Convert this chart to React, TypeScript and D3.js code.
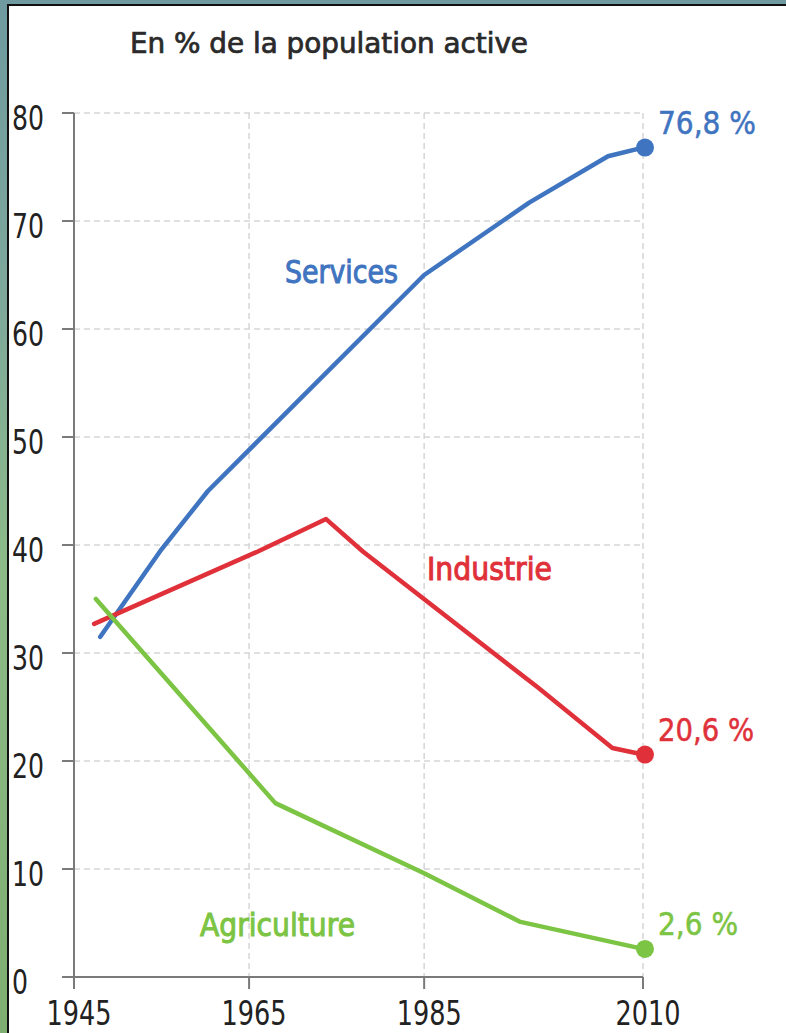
import { useEffect, useRef } from "react";
import * as d3 from "d3";

const X_TICKS = [1945, 1965, 1985, 2010];
const Y_TICKS = [0, 10, 20, 30, 40, 50, 60, 70, 80];

const SERVICES_YEARS = [1948, 1955, 1960.3, 1985, 1997, 2006, 2010];
const SERVICES_VALUES = [31.5, 39.6, 45, 65, 71.7, 76, 76.8];

const INDUSTRY_YEARS = [1947.3, 1966, 1973.8, 1978, 1998, 2006.5, 2010];
const INDUSTRY_VALUES = [32.7, 39.4, 42.4, 39.4, 26.8, 21.2, 20.6];

const AGRI_YEARS = [1947.5, 1968, 1985, 1996, 2010];
const AGRI_VALUES = [35, 16.1, 9.6, 5.1, 2.6];

const SERIES = [
  { name: "Services", years: SERVICES_YEARS, values: SERVICES_VALUES, end: "76,8 %", color: "#3f74c0", label: [285, 283], nameW: 113, endW: 98 },
  { name: "Industrie", years: INDUSTRY_YEARS, values: INDUSTRY_VALUES, end: "20,6 %", color: "#e0313b", label: [427, 580], nameW: 125, endW: 96 },
  { name: "Agriculture", years: AGRI_YEARS, values: AGRI_VALUES, end: "2,6 %", color: "#7cc443", label: [200, 936], nameW: 155, endW: 80 },
];

const FONT = "'DejaVu Sans Condensed', 'DejaVu Sans', sans-serif";

export default function App() {
  const ref = useRef<SVGSVGElement | null>(null);

  useEffect(() => {
    const svg = d3.select(ref.current);
    svg.selectAll("*").remove();

    const width = 786;
    const height = 1033;
    svg.attr("width", width).attr("height", height).attr("viewBox", `0 0 ${width} ${height}`);

    // frame: photo strip on the left / top, black border line
    const defs = svg.append("defs");
    const grad = defs.append("linearGradient").attr("id", "strip").attr("x1", 0).attr("y1", 0).attr("x2", 0).attr("y2", 1);
    grad.append("stop").attr("offset", "0%").attr("stop-color", "#6f9aa0");
    grad.append("stop").attr("offset", "30%").attr("stop-color", "#7fa99a");
    grad.append("stop").attr("offset", "55%").attr("stop-color", "#8cbb88");
    grad.append("stop").attr("offset", "100%").attr("stop-color", "#7fae72");
    svg.append("rect").attr("width", width).attr("height", height).attr("fill", "url(#strip)");
    svg.append("rect").attr("x", 7).attr("y", 4).attr("width", width - 7).attr("height", height - 4).attr("fill", "#111");
    svg.append("rect").attr("x", 9).attr("y", 6).attr("width", width - 9).attr("height", height - 6).attr("fill", "#fff");

    const x = d3.scaleLinear().domain([1945, 2010]).range([74, 643]);
    const y = d3.scaleLinear().domain([0, 80]).range([977, 113]);

    const g = svg.append("g");

    // grid
    g.selectAll("line.hgrid")
      .data(Y_TICKS.filter((t) => t > 0))
      .enter()
      .append("line")
      .attr("x1", x(1945))
      .attr("x2", x(2010))
      .attr("y1", (d: number) => y(d))
      .attr("y2", (d: number) => y(d))
      .attr("stroke", "#d6d6d6")
      .attr("stroke-width", 1.5)
      .attr("stroke-dasharray", "6,4");
    g.selectAll("line.vgrid")
      .data(X_TICKS.filter((t) => t > 1945))
      .enter()
      .append("line")
      .attr("x1", (d: number) => x(d))
      .attr("x2", (d: number) => x(d))
      .attr("y1", y(80))
      .attr("y2", y(0))
      .attr("stroke", "#d6d6d6")
      .attr("stroke-width", 1.5)
      .attr("stroke-dasharray", "6,4");

    // axes
    const axisColor = "#7a7a7a";
    g.append("line").attr("x1", x(1945)).attr("x2", x(1945)).attr("y1", y(80)).attr("y2", y(0) + 12).attr("stroke", axisColor).attr("stroke-width", 2);
    g.append("line").attr("x1", x(1945) - 12).attr("x2", x(2010)).attr("y1", y(0)).attr("y2", y(0)).attr("stroke", axisColor).attr("stroke-width", 2);
    g.selectAll("line.ytick")
      .data(Y_TICKS)
      .enter()
      .append("line")
      .attr("x1", x(1945) - 12)
      .attr("x2", x(1945))
      .attr("y1", (d: number) => y(d))
      .attr("y2", (d: number) => y(d))
      .attr("stroke", axisColor)
      .attr("stroke-width", 2);
    g.selectAll("line.xtick")
      .data(X_TICKS)
      .enter()
      .append("line")
      .attr("x1", (d: number) => x(d))
      .attr("x2", (d: number) => x(d))
      .attr("y1", y(0))
      .attr("y2", y(0) + 12)
      .attr("stroke", axisColor)
      .attr("stroke-width", 2);

    // tick labels (narrow, tall digits)
    g.selectAll("text.ylab")
      .data(Y_TICKS)
      .enter()
      .append("text")
      .attr("x", 12)
      .attr("y", (d: number) => y(d) + 17)
      .attr("font-family", FONT)
      .attr("font-size", 33)
      .attr("fill", "#222")
      .attr("textLength", (d: number) => String(d).length * 16)
      .attr("lengthAdjust", "spacingAndGlyphs")
      .text((d: number) => String(d));
    g.selectAll("text.xlab")
      .data(X_TICKS)
      .enter()
      .append("text")
      .attr("x", (d: number) => x(d) + 5)
      .attr("y", 1025)
      .attr("text-anchor", "middle")
      .attr("font-family", FONT)
      .attr("font-size", 33)
      .attr("fill", "#222")
      .attr("textLength", 65)
      .attr("lengthAdjust", "spacingAndGlyphs")
      .text((d: number) => String(d));

    // title
    svg.append("text")
      .attr("x", 130)
      .attr("y", 53)
      .attr("font-family", FONT)
      .attr("font-size", 28)
      .attr("fill", "#2a2a2a")
      .attr("stroke", "#2a2a2a")
      .attr("stroke-width", 0.7)
      .attr("textLength", 398)
      .attr("lengthAdjust", "spacingAndGlyphs")
      .text("En % de la population active");

    // series
    const line = d3
      .line<[number, number]>()
      .x((d: [number, number]) => x(d[0]))
      .y((d: [number, number]) => y(d[1]));

    SERIES.forEach((s) => {
      const pts: [number, number][] = s.years.map((yr, i) => [yr, s.values[i]]);
      g.append("path")
        .attr("d", line(pts) as string)
        .attr("fill", "none")
        .attr("stroke", s.color)
        .attr("stroke-width", 4.5)
        .attr("stroke-linejoin", "round")
        .attr("stroke-linecap", "round");
      const last = pts[pts.length - 1];
      g.append("circle").attr("cx", x(last[0]) + 2).attr("cy", y(last[1])).attr("r", 9).attr("fill", s.color);
      g.append("text")
        .attr("x", x(last[0]) + 15)
        .attr("y", y(last[1]) - 14)
        .attr("font-family", FONT)
        .attr("font-size", 32)
        .attr("fill", s.color)
        .attr("stroke", s.color)
        .attr("stroke-width", 0.5)
        .attr("textLength", s.endW)
        .attr("lengthAdjust", "spacingAndGlyphs")
        .text(s.end);
      g.append("text")
        .attr("x", s.label[0])
        .attr("y", s.label[1])
        .attr("font-family", FONT)
        .attr("font-size", 32)
        .attr("fill", s.color)
        .attr("stroke", s.color)
        .attr("stroke-width", 1)
        .attr("textLength", s.nameW)
        .attr("lengthAdjust", "spacingAndGlyphs")
        .text(s.name);
    });
  }, []);

  return (
    <div style={{ position: "absolute", left: 0, top: 0 }}>
      <svg ref={ref} style={{ display: "block" }} />
    </div>
  );
}
